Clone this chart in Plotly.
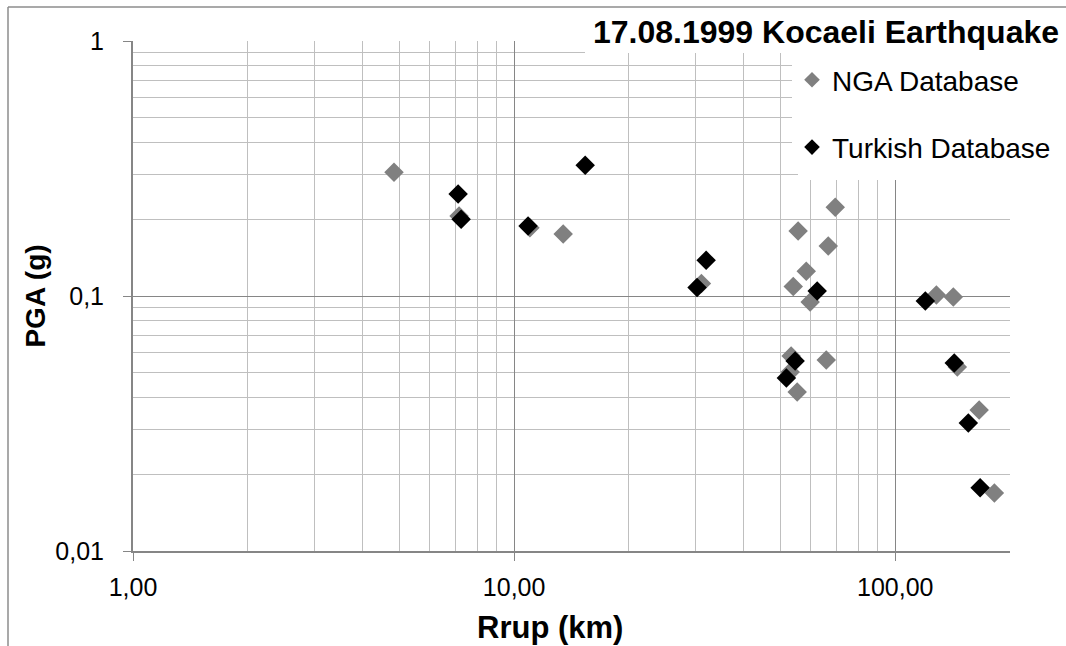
import math
import plotly.graph_objects as go

# Rupture distance (km) and peak ground acceleration (g)
nga_rrup = [4.84, 7.17, 11.0, 13.45, 31.0, 53.3, 53.0, 55.3, 54.0, 55.6,
            58.4, 59.8, 65.9, 66.7, 69.6, 128.2, 142.0, 145.5, 166.0, 182.0]
nga_pga = [0.306, 0.206, 0.185, 0.175, 0.112, 0.0582, 0.0503, 0.0420, 0.109, 0.180,
           0.125, 0.0947, 0.0561, 0.157, 0.223, 0.1009, 0.0991, 0.0527, 0.0357, 0.0169]

tr_rrup = [7.13, 7.26, 10.88, 15.36, 30.2, 31.9, 51.8, 54.6, 62.4, 119.9, 142.8, 155.5, 167.0]
tr_pga = [0.251, 0.200, 0.188, 0.326, 0.108, 0.138, 0.0477, 0.0556, 0.1046, 0.0956,
          0.0546, 0.0318, 0.0177]

x_major = [1, 10, 100]
x_major_text = ["1,00", "10,00", "100,00"]
x_minor = [2, 3, 4, 5, 6, 7, 8, 9, 20, 30, 40, 50, 60, 70, 80, 90, 200]
y_major = [0.01, 0.1, 1]
y_major_text = ["0,01", "0,1", "1"]
y_minor = [0.02, 0.03, 0.04, 0.05, 0.06, 0.07, 0.08, 0.09,
           0.2, 0.3, 0.4, 0.5, 0.6, 0.7, 0.8, 0.9]

FONT = "Liberation Sans, Arial, sans-serif"
MAJOR = "#868686"
MINOR = "#bfbfbf"

W, H = 1066, 646
L, R, T, B = 133, 56, 41, 95
pw, ph = W - L - R, H - T - B


def px_x(p):
    return (p - L) / pw


def px_y(p):
    return (H - B - p) / ph


fig = go.Figure()
fig.add_trace(go.Scatter(
    x=nga_rrup, y=nga_pga, mode="markers", name="NGA Database",
    legendgroup="nga",
    marker=dict(symbol="diamond", size=15, color="#808080", line=dict(width=0)),
))
fig.add_trace(go.Scatter(
    x=tr_rrup, y=tr_pga, mode="markers", name="Turkish Database",
    legendgroup="tr",
    marker=dict(symbol="diamond", size=15, color="#000000", line=dict(width=0)),
))

fig.update_xaxes(
    type="log", range=[0, math.log10(200)],
    tickmode="array", tickvals=x_major, ticktext=x_major_text,
    showgrid=True, gridcolor=MAJOR, gridwidth=1,
    showline=True, linecolor=MAJOR, linewidth=2,
    ticks="outside", ticklen=8, tickcolor=MAJOR, tickwidth=1,
    ticklabelstandoff=5,
    minor=dict(tickmode="array", tickvals=x_minor, showgrid=True,
               gridcolor=MINOR, gridwidth=1, ticks=""),
    tickfont=dict(family=FONT, size=25, color="#000000"),
    zeroline=False,
)
fig.update_yaxes(
    type="log", range=[-2, 0],
    tickmode="array", tickvals=y_major, ticktext=y_major_text,
    showgrid=True, gridcolor=MAJOR, gridwidth=1,
    showline=True, linecolor=MAJOR, linewidth=2,
    ticks="outside", ticklen=8, tickcolor=MAJOR, tickwidth=1,
    ticklabelstandoff=14,
    minor=dict(tickmode="array", tickvals=y_minor, showgrid=True,
               gridcolor=MINOR, gridwidth=1, ticks=""),
    tickfont=dict(family=FONT, size=25, color="#000000"),
    title=dict(text="<b>PGA (g)</b>", font=dict(family=FONT, size=28, color="#000000"),
               standoff=2),
    zeroline=False,
)

shapes = [
    # white panels behind the heading and the key
    dict(type="rect", xref="paper", yref="paper", layer="above",
         x0=px_x(585), x1=px_x(1066), y0=px_y(53), y1=px_y(9),
         fillcolor="white", line=dict(width=0)),
    dict(type="rect", xref="paper", yref="paper", layer="above",
         x0=px_x(798), x1=px_x(1066), y0=px_y(180), y1=px_y(53),
         fillcolor="white", line=dict(width=0)),
    # outer chart frame (left and top edges)
    dict(type="line", xref="paper", yref="paper", layer="above",
         x0=px_x(8), x1=px_x(8), y0=px_y(650), y1=px_y(7),
         line=dict(color="#8c8c8c", width=1.5)),
    dict(type="line", xref="paper", yref="paper", layer="above",
         x0=px_x(8), x1=px_x(1070), y0=px_y(7), y1=px_y(7),
         line=dict(color="#8c8c8c", width=1.5)),
]

annotations = [
    dict(text="<b>17.08.1999 Kocaeli Earthquake</b>", xref="paper", yref="paper",
         x=px_x(826), y=px_y(32), xanchor="center", yanchor="middle",
         showarrow=False, font=dict(family=FONT, size=32, color="#000000")),
    dict(text="<b>Rrup (km)</b>", xref="paper", yref="paper",
         x=px_x(550), y=px_y(627), xanchor="center", yanchor="middle",
         showarrow=False, font=dict(family=FONT, size=31, color="#000000")),
]

fig.update_layout(
    width=W, height=H,
    margin=dict(l=L, r=R, t=T, b=B, autoexpand=False),
    paper_bgcolor="white", plot_bgcolor="white",
    shapes=shapes, annotations=annotations,
    showlegend=True,
    legend=dict(
        x=px_x(792), y=px_y(55), xanchor="left", yanchor="top",
        bgcolor="white", borderwidth=0,
        font=dict(family=FONT, size=28, color="#000000"),
        itemsizing="constant", tracegroupgap=28,
    ),
)

fig.write_html("out.html")
